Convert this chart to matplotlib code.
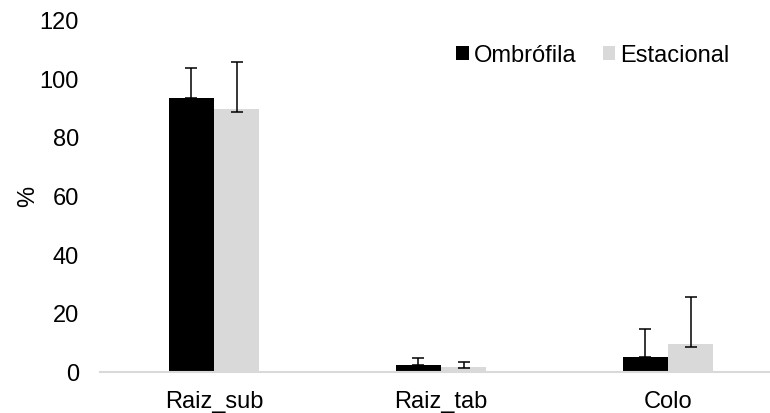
import numpy as np
import matplotlib
matplotlib.use('Agg')
import matplotlib.pyplot as plt
from matplotlib.patches import Patch

categorias = ['Raiz_sub', 'Raiz_tab', 'Colo']
series = ['Ombrófila', 'Estacional']
ombrofila = [93.1, 2.2, 4.8]
ombrofila_err = [10.4, 2.4, 9.7]
estacional = [89.4, 1.4, 9.4]
estacional_err_sup = [16.0, 1.7, 16.1]
estacional_err_inf = [1.0, 0.3, 0.9]
yticks = [0, 20, 40, 60, 80, 100, 120]

plt.rcParams.update({
    'font.family': ['Liberation Sans', 'DejaVu Sans'],
    'font.size': 17,
})

cor_omb = 'black'
cor_est = '#d9d9d9'
cor_eixo = '#d9d9d9'

fig = plt.figure(figsize=(7.7, 4.14), dpi=100)
ax = fig.add_axes([100.5/770, 41.5/414, 681/770, 352/414])

x = np.arange(len(categorias))
w = 0.2

ax.bar(x - w/2, ombrofila, width=w, color=cor_omb, zorder=2)
ax.bar(x + w/2, estacional, width=w, color=cor_est, zorder=2)
# barra de erro so para cima na serie preta (a de baixo some na barra)
ax.errorbar(x - w/2, ombrofila, yerr=[np.zeros(3), ombrofila_err], fmt='none',
            ecolor='black', elinewidth=1.1, capsize=4.3, capthick=1.1, zorder=3)
ax.errorbar(x + w/2, estacional, yerr=[estacional_err_inf, estacional_err_sup], fmt='none',
            ecolor='black', elinewidth=1.1, capsize=4.3, capthick=1.1, zorder=3)

ax.set_xlim(-0.5, 2.5)
ax.set_ylim(0, 120)
ax.set_yticks(yticks)
ax.set_xticks(x, labels=categorias)
ax.tick_params(axis='y', length=0, pad=15.5)
ax.tick_params(axis='x', length=0, pad=13)
ax.set_ylabel('%', labelpad=0)

for s in ['top', 'right', 'left']:
    ax.spines[s].set_visible(False)
ax.spines['bottom'].set_color(cor_eixo)
ax.spines['bottom'].set_linewidth(1.5)
ax.spines['bottom'].set_clip_on(False)

handles = [Patch(facecolor=cor_omb, edgecolor='none'), Patch(facecolor=cor_est, edgecolor='none')]
fig.legend(handles, series, loc='center left', bbox_to_anchor=(456/770, 1 - 56/414),
           ncol=2, frameon=False, borderpad=0, borderaxespad=0,
           handlelength=0.54, handleheight=0.54, handletextpad=0.22, columnspacing=1.1)

plt.savefig('out.png', dpi=100)
